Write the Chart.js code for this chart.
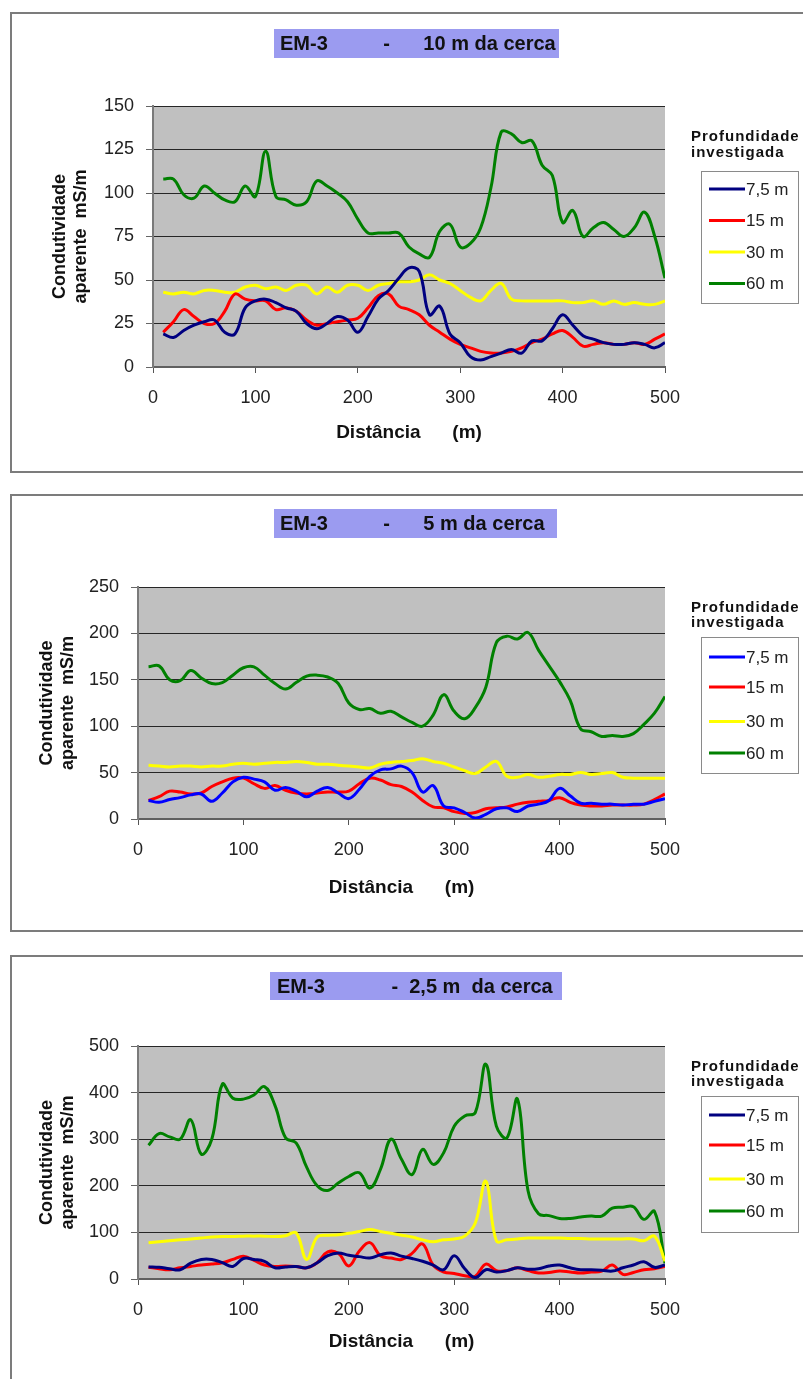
<!DOCTYPE html>
<html lang="pt">
<head>
<meta charset="utf-8">
<title>EM-3 - Condutividade aparente</title>
<script src="https://cdn.jsdelivr.net/npm/chart.js@4.4.1/dist/chart.umd.min.js"></script>
<style>
    html, body { margin: 0; padding: 0; background: #fff; }
    body { position: relative; width: 803px; height: 1379px; overflow: hidden; }
    .moldura { position: absolute; left: 10px; width: 830px; border: 2px solid #7c7c7c; box-sizing: border-box; }
    canvas { position: absolute; left: 0; }
</style>
</head>
<body>
<div class="moldura" style="top:12px;height:461px"></div>
<div class="moldura" style="top:494px;height:438px"></div>
<div class="moldura" style="top:955px;height:460px"></div>
<canvas id="grafico10" width="803" height="480" style="top:0px"></canvas>
<canvas id="grafico5" width="803" height="455" style="top:485px"></canvas>
<canvas id="grafico25" width="803" height="434" style="top:945px"></canvas>
<script>
// Distancias (m) ao longo do perfil
var distancias = [10, 20, 30, 40, 50, 60, 70, 80, 90, 100,
    110, 120, 130, 140, 150, 160, 170, 180, 190, 200,
    210, 220, 230, 240, 250, 260, 270, 280, 290, 300,
    310, 320, 330, 340, 350, 360, 370, 380, 390, 400,
    410, 420, 430, 440, 450, 460, 470, 480, 490, 500];

var profundidades = ['7,5 m', '15 m', '30 m', '60 m'];

// EM-3 - 10 m da cerca
var cerca10_75 = [19, 17, 21, 24, 26, 27, 20, 19, 34, 38, 39, 37, 34, 32, 25, 22, 25, 29, 27, 20,
    29, 39, 44, 51, 57, 55, 30, 35, 19, 14, 6, 4, 6, 8, 10, 8, 15, 15, 22, 30,
    24, 18, 16, 14, 13, 13, 14, 13, 11, 14];
var cerca10_15 = [20, 26, 33, 29, 25, 25, 32, 42, 39, 38, 38, 33, 34, 32, 27, 24, 25, 26, 27, 28,
    34, 41, 42, 35, 33, 30, 24, 20, 16, 13, 11, 9, 8, 8, 9, 11, 14, 16, 19, 21,
    17, 12, 13, 14, 13, 13, 14, 13, 16, 19];
var cerca10_30 = [43, 42, 43, 42, 44, 44, 43, 43, 46, 47, 45, 46, 44, 47, 47, 42, 46, 43, 47, 47,
    44, 47, 48, 49, 49, 50, 53, 50, 48, 44, 40, 38, 44, 48, 39, 38, 38, 38, 38, 38,
    37, 37, 38, 36, 38, 36, 37, 36, 36, 38];
var cerca10_60 = [108, 108, 99, 97, 104, 100, 96, 95, 104, 98, 124, 98, 96, 93, 95, 107, 104, 100, 95, 85,
    77, 77, 77, 77, 69, 65, 63, 78, 82, 69, 71, 80, 103, 135, 134, 129, 130, 116, 110, 83,
    90, 75, 80, 83, 79, 75, 80, 89, 75, 51];

// EM-3 - 5 m da cerca
var cerca5_75 = [20, 18, 21, 23, 26, 27, 19, 28, 40, 45, 43, 40, 31, 34, 30, 24, 30, 34, 28, 22,
    32, 46, 53, 54, 57, 50, 29, 36, 14, 12, 7, 1, 5, 11, 12, 8, 14, 16, 20, 33,
    25, 17, 17, 16, 16, 15, 16, 16, 19, 22];
var cerca5_15 = [20, 24, 30, 29, 27, 28, 35, 40, 44, 44, 38, 33, 36, 31, 28, 27, 28, 29, 29, 30,
    38, 44, 42, 37, 35, 29, 20, 13, 12, 8, 6, 7, 11, 12, 13, 16, 18, 19, 20, 23,
    18, 15, 14, 14, 15, 15, 15, 16, 21, 27];
var cerca5_30 = [58, 57, 56, 57, 57, 56, 57, 57, 59, 60, 59, 60, 61, 61, 62, 61, 59, 59, 58, 57,
    56, 55, 59, 61, 62, 63, 65, 62, 60, 56, 52, 49, 56, 62, 46, 45, 48, 45, 46, 48,
    48, 50, 48, 49, 50, 45, 44, 44, 44, 44];
var cerca5_60 = [164, 165, 150, 149, 160, 152, 146, 147, 155, 163, 164, 155, 146, 140, 147, 154, 155, 153, 146, 125,
    118, 119, 114, 116, 110, 104, 100, 112, 134, 116, 108, 120, 142, 190, 197, 194, 201, 182, 165, 148,
    128, 97, 94, 89, 90, 89, 92, 102, 114, 132];

// EM-3 - 2,5 m da cerca
var cerca25_75 = [26, 25, 22, 20, 34, 42, 42, 35, 27, 44, 42, 38, 24, 26, 27, 24, 35, 50, 56, 51,
    48, 45, 52, 56, 49, 44, 38, 30, 20, 50, 22, 3, 20, 15, 18, 24, 21, 22, 28, 30,
    24, 20, 20, 19, 17, 24, 30, 37, 25, 30];
var cerca25_15 = [25, 22, 20, 24, 27, 30, 32, 35, 42, 49, 40, 30, 27, 28, 27, 24, 35, 58, 55, 28,
    60, 78, 50, 45, 42, 55, 75, 30, 15, 12, 7, 6, 32, 18, 18, 24, 18, 13, 14, 17,
    15, 13, 15, 17, 30, 10, 14, 20, 22, 27];
var cerca25_30 = [78, 80, 82, 84, 86, 88, 90, 91, 91, 92, 92, 92, 91, 93, 99, 42, 90, 94, 95, 98,
    102, 106, 102, 98, 94, 90, 84, 80, 84, 86, 92, 120, 210, 82, 84, 86, 88, 88, 88, 88,
    87, 87, 86, 86, 86, 86, 86, 82, 92, 38];
var cerca25_60 = [287, 312, 305, 300, 342, 268, 300, 418, 388, 386, 395, 413, 372, 303, 292, 240, 200, 190, 206, 220,
    228, 195, 235, 300, 257, 224, 278, 246, 271, 328, 350, 357, 461, 328, 303, 386, 190, 140, 136, 130,
    130, 133, 135, 135, 152, 154, 155, 128, 145, 34];

// Escalas verticais (minimo, maximo e passo)
var escalaY10 = [0, 150, 25];
var escalaY5 = [0, 250, 50];
var escalaY25 = [0, 500, 100];

var FONTE = "'Liberation Sans', Arial, Helvetica, sans-serif";
Chart.defaults.font.family = FONTE;
Chart.defaults.color = '#222';

// Fundo cinza da area de plotagem
var fundoPlugin = {
    id: 'fundo',
    beforeDraw: function (chart) {
        var a = chart.chartArea;
        chart.ctx.save();
        chart.ctx.fillStyle = '#c0c0c0';
        chart.ctx.fillRect(a.left, a.top, a.right - a.left, a.bottom - a.top);
        chart.ctx.restore();
    }
};

// Caixa do titulo
var tituloPlugin = {
    id: 'tituloCaixa',
    afterDraw: function (chart, args, opts) {
        var ctx = chart.ctx;
        ctx.save();
        ctx.fillStyle = '#9b9bf0';
        ctx.fillRect(opts.caixa[0], opts.caixa[1], opts.caixa[2], opts.caixa[3]);
        ctx.fillStyle = '#111';
        ctx.font = 'bold 20px ' + FONTE;
        ctx.textBaseline = 'middle';
        ctx.textAlign = 'left';
        ctx.fillText(opts.texto, opts.textoX, opts.caixa[1] + opts.caixa[3] / 2 + 1);
        ctx.restore();
    }
};

// Legenda com titulo e moldura
var legendaPlugin = {
    id: 'legenda',
    afterDraw: function (chart, args, opts) {
        var ctx = chart.ctx;
        ctx.save();
        ctx.fillStyle = '#111';
        ctx.font = 'bold 15px ' + FONTE;
        ctx.textBaseline = 'middle';
        ctx.textAlign = 'left';
        ctx.letterSpacing = '1px';
        ctx.fillText('Profundidade', 691, opts.tituloY[0]);
        ctx.fillText('investigada', 691, opts.tituloY[1]);
        ctx.letterSpacing = '0px';
        ctx.strokeStyle = '#8a8a8a';
        ctx.lineWidth = 1;
        ctx.strokeRect(701.5, opts.caixa[0] + 0.5, 97, opts.caixa[1] - opts.caixa[0]);
        chart.data.datasets.forEach(function (ds, i) {
            var y = opts.itensY[i];
            ctx.strokeStyle = ds.borderColor;
            ctx.lineWidth = 3;
            ctx.beginPath();
            ctx.moveTo(709, y);
            ctx.lineTo(745, y);
            ctx.stroke();
            ctx.fillStyle = '#222';
            ctx.font = '17px ' + FONTE;
            ctx.fillText(ds.label, 746, y + 1);
        });
        ctx.restore();
    }
};

function serie(label, valores, cor) {
    return {
        label: label,
        data: distancias.map(function (d, i) { return { x: d, y: valores[i] }; }),
        borderColor: cor,
        backgroundColor: cor,
        borderWidth: 3,
        pointRadius: 0,
        tension: 0.4,
        fill: false
    };
}

function criarGrafico(id, cfg) {
    var ctx = document.getElementById(id).getContext('2d');
    return new Chart(ctx, {
        type: 'line',
        data: {
            datasets: [
                serie(profundidades[0], cfg.v75, cfg.cor75),
                serie(profundidades[1], cfg.v15, '#ff0000'),
                serie(profundidades[2], cfg.v30, '#ffff00'),
                serie(profundidades[3], cfg.v60, '#008000')
            ]
        },
        options: {
            responsive: false,
            animation: false,
            devicePixelRatio: 1,
            layout: { padding: cfg.padding },
            scales: {
                x: {
                    type: 'linear',
                    min: 0,
                    max: 500,
                    ticks: { stepSize: 100, padding: 14, color: '#222', font: { size: 18 } },
                    grid: { drawOnChartArea: false, drawTicks: true, tickLength: 6, tickColor: '#555' },
                    border: { color: '#606060', width: 2 },
                    title: {
                        display: true,
                        text: 'Distância      (m)',
                        color: '#111',
                        padding: 0,
                        font: { size: 19, weight: 'bold', lineHeight: 1.15 }
                    },
                    afterFit: function (scale) { scale.height = cfg.alturaX; }
                },
                y: {
                    min: cfg.escala[0],
                    max: cfg.escala[1],
                    ticks: { stepSize: cfg.escala[2], padding: 12, color: '#222', font: { size: 18 } },
                    grid: { color: '#262626', lineWidth: 1, tickColor: '#666', tickLength: 7 },
                    border: { color: '#7a7a7a', width: 2 },
                    title: {
                        display: true,
                        text: ['Condutividade', 'aparente  mS/m'],
                        color: '#111',
                        padding: 0,
                        font: { size: 18, weight: 'bold', lineHeight: 1.15 }
                    },
                    afterFit: function (scale) { scale.width = cfg.larguraY; }
                }
            },
            plugins: {
                legend: { display: false },
                tooltip: { enabled: false },
                tituloCaixa: cfg.titulo,
                legenda: cfg.legenda
            }
        },
        plugins: [fundoPlugin, tituloPlugin, legendaPlugin]
    });
}

criarGrafico('grafico10', {
    v75: cerca10_75, v15: cerca10_15, v30: cerca10_30, v60: cerca10_60,
    cor75: '#000080',
    escala: escalaY10,
    padding: { left: 50, right: 138, top: 106, bottom: 36 },
    larguraY: 103,
    alturaX: 77,
    titulo: { caixa: [274, 29, 285, 29], texto: 'EM-3          -      10 m da cerca', textoX: 280 },
    legenda: { tituloY: [137, 153], caixa: [171, 303], itensY: [189, 220.5, 252, 283.5] }
});

criarGrafico('grafico5', {
    v75: cerca5_75, v15: cerca5_15, v30: cerca5_30, v60: cerca5_60,
    cor75: '#0000ff',
    escala: escalaY5,
    padding: { left: 37, right: 138, top: 102, bottom: 41 },
    larguraY: 101,
    alturaX: 80,
    titulo: { caixa: [274, 24, 283, 29], texto: 'EM-3          -      5 m da cerca', textoX: 280 },
    legenda: { tituloY: [123, 138], caixa: [152, 288], itensY: [172, 202, 236.5, 268] }
});

criarGrafico('grafico25', {
    v75: cerca25_75, v15: cerca25_15, v30: cerca25_30, v60: cerca25_60,
    cor75: '#000080',
    escala: escalaY25,
    padding: { left: 37, right: 138, top: 101, bottom: 26 },
    larguraY: 101,
    alturaX: 74,
    titulo: { caixa: [270, 27, 292, 28], texto: 'EM-3            -  2,5 m  da cerca', textoX: 277 },
    legenda: { tituloY: [122, 137], caixa: [151, 287], itensY: [170, 200, 234, 266] }
});
</script>
</body>
</html>
